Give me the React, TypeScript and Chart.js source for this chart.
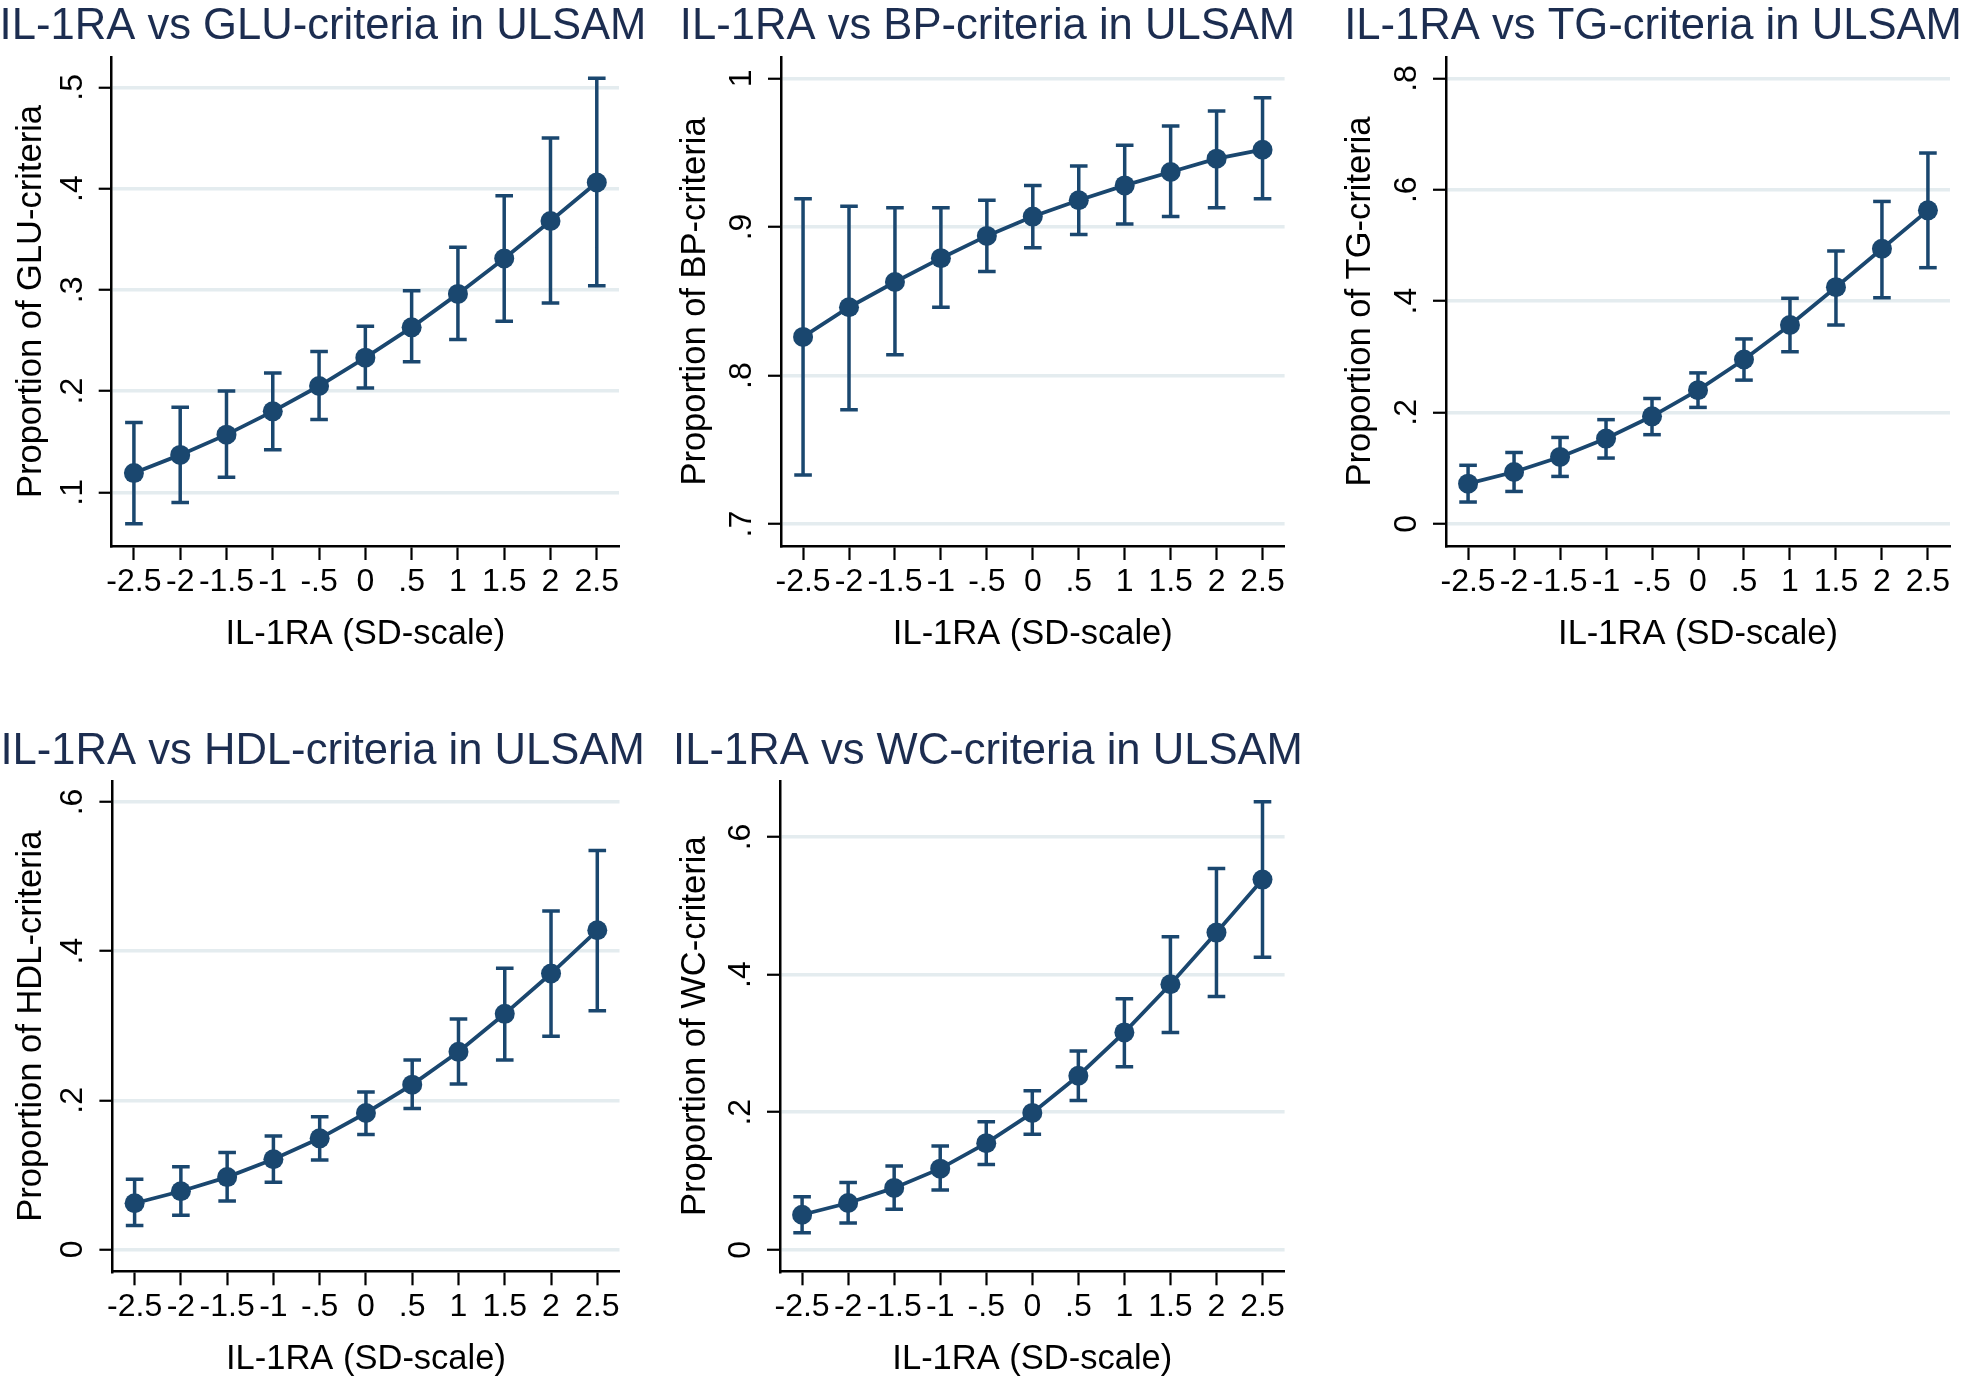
import React, { useEffect, useRef } from 'react';
import { Chart, registerables } from 'chart.js';

Chart.register(...registerables);

// ---------- data ----------
const xValues = [-2.5, -2, -1.5, -1, -0.5, 0, 0.5, 1, 1.5, 2, 2.5];
const xTickLabels = ['-2.5', '-2', '-1.5', '-1', '-.5', '0', '.5', '1', '1.5', '2', '2.5'];
const xAxisTitle = 'IL-1RA (SD-scale)';

const gluTitle = 'IL-1RA vs GLU-criteria in ULSAM';
const gluYTitle = 'Proportion of GLU-criteria';
const glu = [0.119, 0.137, 0.157, 0.180, 0.205, 0.233, 0.263, 0.296, 0.331, 0.368, 0.406];
const gluLo = [0.069, 0.090, 0.115, 0.142, 0.172, 0.203, 0.229, 0.251, 0.269, 0.287, 0.304];
const gluHi = [0.169, 0.184, 0.200, 0.218, 0.239, 0.264, 0.299, 0.342, 0.393, 0.450, 0.509];
const gluYTicks = [0.1, 0.2, 0.3, 0.4, 0.5];
const gluYTickLabels = ['.1', '.2', '.3', '.4', '.5'];

const bpTitle = 'IL-1RA vs BP-criteria in ULSAM';
const bpYTitle = 'Proportion of BP-criteria';
const bp = [0.826, 0.846, 0.863, 0.879, 0.894, 0.907, 0.918, 0.928, 0.937, 0.946, 0.952];
const bpLo = [0.733, 0.777, 0.814, 0.846, 0.870, 0.886, 0.895, 0.902, 0.907, 0.913, 0.919];
const bpHi = [0.919, 0.914, 0.913, 0.913, 0.918, 0.928, 0.941, 0.955, 0.968, 0.978, 0.987];
const bpYTicks = [0.7, 0.8, 0.9, 1];
const bpYTickLabels = ['.7', '.8', '.9', '1'];

const tgTitle = 'IL-1RA vs TG-criteria in ULSAM';
const tgYTitle = 'Proportion of TG-criteria';
const tg = [0.072, 0.093, 0.120, 0.153, 0.193, 0.240, 0.295, 0.357, 0.425, 0.494, 0.563];
const tgLo = [0.039, 0.058, 0.085, 0.118, 0.160, 0.209, 0.258, 0.309, 0.357, 0.406, 0.460];
const tgHi = [0.105, 0.128, 0.155, 0.187, 0.225, 0.271, 0.332, 0.405, 0.490, 0.579, 0.666];
const tgYTicks = [0, 0.2, 0.4, 0.6, 0.8];
const tgYTickLabels = ['0', '.2', '.4', '.6', '.8'];

const hdlTitle = 'IL-1RA vs HDL-criteria in ULSAM';
const hdlYTitle = 'Proportion of HDL-criteria';
const hdl = [0.062, 0.078, 0.097, 0.121, 0.149, 0.183, 0.221, 0.265, 0.316, 0.370, 0.428];
const hdlLo = [0.032, 0.046, 0.065, 0.090, 0.120, 0.154, 0.189, 0.222, 0.254, 0.286, 0.320];
const hdlHi = [0.094, 0.111, 0.130, 0.152, 0.178, 0.211, 0.254, 0.309, 0.377, 0.454, 0.535];
const hdlYTicks = [0, 0.2, 0.4, 0.6];
const hdlYTickLabels = ['0', '.2', '.4', '.6'];

const wcTitle = 'IL-1RA vs WC-criteria in ULSAM';
const wcYTitle = 'Proportion of WC-criteria';
const wc = [0.051, 0.068, 0.090, 0.118, 0.155, 0.199, 0.253, 0.316, 0.386, 0.461, 0.538];
const wcLo = [0.025, 0.039, 0.059, 0.087, 0.124, 0.168, 0.217, 0.266, 0.316, 0.368, 0.425];
const wcHi = [0.077, 0.098, 0.122, 0.151, 0.186, 0.231, 0.289, 0.365, 0.455, 0.554, 0.651];
const wcYTicks = [0, 0.2, 0.4, 0.6];
const wcYTickLabels = ['0', '.2', '.4', '.6'];

// ---------- style ----------
const FONT = '"Liberation Sans", Arial, Helvetica, sans-serif';
const NAVY = '#1a476f';
const TITLE_COLOR = '#1c2d50';
const GRID = '#e4ecef';
const TITLE_SIZE = 43.6;
const TICK_SIZE = 32;
const AXIS_TITLE_SIZE = 34.5;

type Geom = {
  plotLeft: number; plotRight: number; plotTop: number; plotBottom: number;
  titleCX: number; titleBase: number; yTitleMid: number; top: number; height: number;
};

type Spec = {
  title: string; yTitle: string; vals: number[]; lo: number[]; hi: number[];
  yTicks: number[]; yTickLabels: string[]; yMin: number; yMax: number; geom: Geom;
};

const panels: Spec[] = [
  { title: gluTitle, yTitle: gluYTitle, vals: glu, lo: gluLo, hi: gluHi, yTicks: gluYTicks, yTickLabels: gluYTickLabels, yMin: 0.047, yMax: 0.530,
    geom: { plotLeft: 111.7, plotRight: 619, plotTop: 57, plotBottom: 546, titleCX: 323, titleBase: 39.3, yTitleMid: 31.5, top: 0, height: 670 } },
  { title: bpTitle, yTitle: bpYTitle, vals: bp, lo: bpLo, hi: bpHi, yTicks: bpYTicks, yTickLabels: bpYTickLabels, yMin: 0.6853, yMax: 1.0144,
    geom: { plotLeft: 781, plotRight: 1284.6, plotTop: 57, plotBottom: 546, titleCX: 987.5, titleBase: 39.3, yTitleMid: 695.8, top: 0, height: 670 } },
  { title: tgTitle, yTitle: tgYTitle, vals: tg, lo: tgLo, hi: tgHi, yTicks: tgYTicks, yTickLabels: tgYTickLabels, yMin: -0.040, yMax: 0.8385,
    geom: { plotLeft: 1446, plotRight: 1950, plotTop: 57, plotBottom: 546, titleCX: 1653, titleBase: 39.3, yTitleMid: 1360.7, top: 0, height: 670 } },
  { title: hdlTitle, yTitle: hdlYTitle, vals: hdl, lo: hdlLo, hi: hdlHi, yTicks: hdlYTicks, yTickLabels: hdlYTickLabels, yMin: -0.0293, yMax: 0.6282,
    geom: { plotLeft: 112.4, plotRight: 619.5, plotTop: 781, plotBottom: 1271.3, titleCX: 322.6, titleBase: 764, yTitleMid: 31, top: 720, height: 658 } },
  { title: wcTitle, yTitle: wcYTitle, vals: wc, lo: wcLo, hi: wcHi, yTicks: wcYTicks, yTickLabels: wcYTickLabels, yMin: -0.0312, yMax: 0.6813,
    geom: { plotLeft: 780, plotRight: 1284.6, plotTop: 781, plotBottom: 1271.3, titleCX: 988, titleBase: 764, yTitleMid: 695.8, top: 720, height: 658 } },
];

const Y_BOX = 92; // width reserved for y ticks + title

function layoutOf(g: Geom) {
  const A = g.plotLeft - Y_BOX; // left edge of y-scale box (absolute)
  const L = Math.floor(Math.min(A - 30, g.titleCX - 345));
  const R = Math.ceil(Math.max(g.plotRight + 25, g.titleCX + 345));
  const W = R - L;
  const pl = A - L;
  const pr = R - g.plotRight;
  const T = g.top;
  const H = g.height;
  const xh = T + H - g.plotBottom;
  const padTop = g.plotTop - T;
  const xTitlePadBottom = T + H - (g.plotBottom + 88.2) - AXIS_TITLE_SIZE / 2;
  const yTitlePadTop = g.yTitleMid - A - AXIS_TITLE_SIZE / 2;
  return { L, T, W, H, pl, pr, xh, padTop, xTitlePadBottom, yTitlePadTop };
}

const panelTitlePlugin = {
  id: 'panelTitle',
  afterDraw(chart: any, _args: any, opts: any) {
    const ctx = chart.ctx;
    ctx.save();
    ctx.font = `normal ${opts.size}px ${FONT}`;
    ctx.fillStyle = opts.color;
    ctx.textAlign = 'center';
    ctx.textBaseline = 'alphabetic';
    ctx.fillText(opts.text, opts.x, opts.y);
    ctx.restore();
  },
};

function Panel({ spec }: { spec: Spec }) {
  const ref = useRef<HTMLCanvasElement>(null);
  const lay = layoutOf(spec.geom);

  useEffect(() => {
    if (!ref.current) return;
    const g = spec.geom;
    const mainPts = xValues.map((x, i) => ({ x, y: spec.vals[i] }));
    const capPts = [
      ...xValues.map((x, i) => ({ x, y: spec.lo[i] })),
      ...xValues.map((x, i) => ({ x, y: spec.hi[i] })),
    ];
    const segPts: { x: number; y: number | null }[] = [];
    xValues.forEach((x, i) => {
      segPts.push({ x, y: spec.lo[i] });
      segPts.push({ x, y: spec.hi[i] });
      segPts.push({ x, y: null });
    });

    const chart = new Chart(ref.current, {
      type: 'line',
      plugins: [panelTitlePlugin],
      data: {
        datasets: [
          {
            data: mainPts as any,
            borderColor: NAVY,
            borderWidth: 3.8,
            pointRadius: 10,
            pointHoverRadius: 10,
            pointBackgroundColor: NAVY,
            pointBorderColor: NAVY,
            pointBorderWidth: 0,
            tension: 0,
            fill: false,
          },
          {
            data: capPts as any,
            showLine: false,
            pointStyle: 'line',
            pointRadius: 8.8,
            pointHoverRadius: 8.8,
            pointBorderColor: NAVY,
            pointBorderWidth: 3.5,
            borderColor: NAVY,
          },
          {
            data: segPts as any,
            borderColor: NAVY,
            borderWidth: 3.5,
            pointRadius: 0,
            pointHoverRadius: 0,
            spanGaps: false,
            borderCapStyle: 'butt',
            fill: false,
          },
        ],
      },
      options: {
        responsive: false,
        maintainAspectRatio: false,
        animation: false,
        devicePixelRatio: 1,
        events: [],
        layout: { padding: { left: lay.pl, right: lay.pr, top: lay.padTop, bottom: 0 } },
        plugins: {
          legend: { display: false },
          tooltip: { enabled: false },
          title: { display: false },
          panelTitle: {
            text: spec.title,
            x: g.titleCX - lay.L,
            y: g.titleBase - lay.T,
            size: TITLE_SIZE,
            color: TITLE_COLOR,
          },
        },
        scales: {
          x: {
            type: 'linear',
            min: -2.74,
            max: 2.74,
            afterBuildTicks: (scale: any) => {
              scale.ticks = xValues.map((v) => ({ value: v }));
            },
            afterFit: (scale: any) => {
              scale.height = lay.xh;
            },
            ticks: {
              autoSkip: false,
              minRotation: 0,
              maxRotation: 0,
              padding: 3,
              color: '#000',
              font: { family: FONT, size: TICK_SIZE },
              callback: (_v: any, i: number) => xTickLabels[i],
            },
            grid: {
              drawOnChartArea: false,
              drawTicks: true,
              tickLength: 14,
              tickWidth: 2.2,
              tickColor: '#000',
            },
            border: { display: true, color: '#000', width: 2.5 },
            title: {
              display: true,
              text: xAxisTitle,
              color: '#000',
              font: { family: FONT, size: AXIS_TITLE_SIZE, lineHeight: 1 },
              padding: { top: 0, bottom: lay.xTitlePadBottom },
            },
          },
          y: {
            type: 'linear',
            min: spec.yMin,
            max: spec.yMax,
            afterBuildTicks: (scale: any) => {
              scale.ticks = spec.yTicks.map((v) => ({ value: v }));
            },
            afterFit: (scale: any) => {
              scale.width = Y_BOX;
            },
            ticks: {
              autoSkip: false,
              minRotation: 90,
              maxRotation: 90,
              crossAlign: 'center',
              padding: 12.5,
              color: '#000',
              font: { family: FONT, size: TICK_SIZE },
              callback: (_v: any, i: number) => spec.yTickLabels[i],
            },
            grid: {
              drawOnChartArea: true,
              color: GRID,
              lineWidth: 3.5,
              drawTicks: true,
              tickLength: 13,
              tickWidth: 2.2,
              tickColor: '#000',
            },
            border: { display: true, color: '#000', width: 2.5 },
            title: {
              display: true,
              text: spec.yTitle,
              color: '#000',
              font: { family: FONT, size: AXIS_TITLE_SIZE, lineHeight: 1 },
              padding: { top: lay.yTitlePadTop, bottom: 0 },
            },
          },
        },
      } as any,
    });
    return () => chart.destroy();
  }, []);

  return (
    <canvas
      ref={ref}
      width={lay.W}
      height={lay.H}
      style={{ position: 'absolute', left: lay.L, top: lay.T, width: lay.W, height: lay.H }}
    />
  );
}

export default function App() {
  return (
    <div
      style={{
        position: 'absolute',
        left: 0,
        top: 0,
        width: 1961,
        height: 1378,
        background: '#ffffff',
        overflow: 'hidden',
      }}
    >
      {panels.map((p, i) => (
        <Panel key={i} spec={p} />
      ))}
    </div>
  );
}
